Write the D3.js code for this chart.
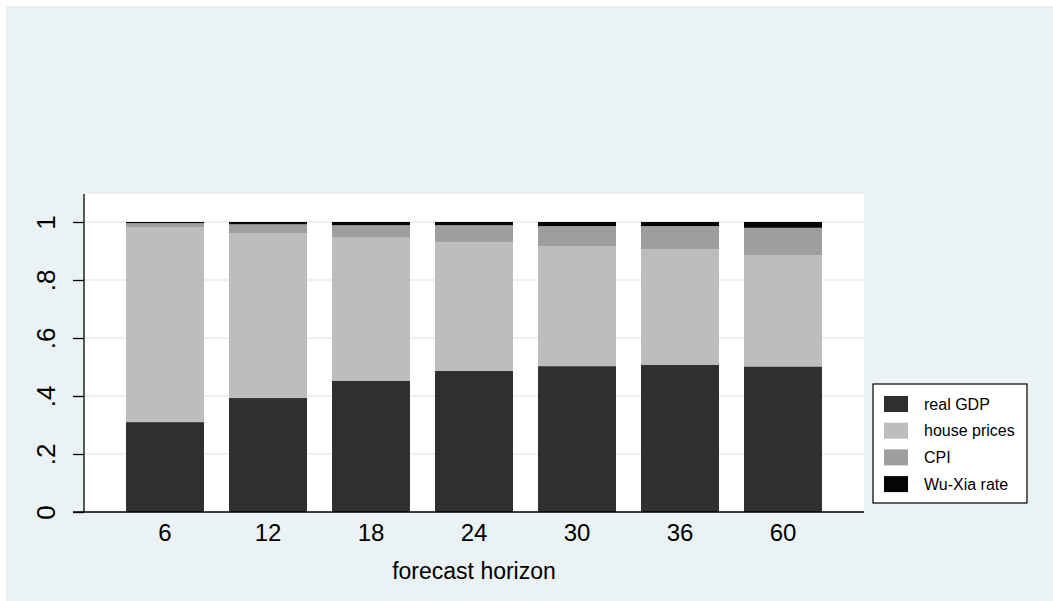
<!DOCTYPE html>
<html>
<head>
<meta charset="utf-8">
<script src="https://cdn.jsdelivr.net/npm/d3@7"></script>
<style>
  html, body { margin: 0; padding: 0; background: #ffffff; }
  svg { display: block; font-family: "Liberation Sans", Arial, Helvetica, sans-serif; }
</style>
</head>
<body>
<svg id="chart" width="1053" height="601"></svg>
<script>
// Forecast error variance shares by horizon (stacked to 1)
const horizons = ["6", "12", "18", "24", "30", "36", "60"];
const realGDP     = [0.310, 0.393, 0.453, 0.487, 0.503, 0.508, 0.502];
const housePrices = [0.671, 0.569, 0.493, 0.443, 0.414, 0.399, 0.384];
const cpi         = [0.015, 0.030, 0.043, 0.059, 0.069, 0.079, 0.094];
const wuXiaRate   = [0.004, 0.008, 0.011, 0.011, 0.014, 0.014, 0.020];

const seriesNames = ["real GDP", "house prices", "CPI", "Wu-Xia rate"];
const seriesColors = ["#303030", "#bdbdbd", "#9e9e9e", "#050505"];
const yTicks = [0, 0.2, 0.4, 0.6, 0.8, 1];
const yTickLabels = ["0", ".2", ".4", ".6", ".8", "1"];

const table = horizons.map((h, i) => ({
  horizon: h,
  "real GDP": realGDP[i],
  "house prices": housePrices[i],
  "CPI": cpi[i],
  "Wu-Xia rate": wuXiaRate[i]
}));

const svg = d3.select("#chart");
const W = 1053, H = 601;
const plot = { left: 84, right: 864, top: 194, bottom: 512 };

// graph background
svg.append("rect").attr("x", 6).attr("y", 6).attr("width", W - 6).attr("height", H - 6)
  .attr("fill", "#eaf2f3");

// plot region
svg.append("rect")
  .attr("x", plot.left).attr("y", plot.top)
  .attr("width", plot.right - plot.left).attr("height", plot.bottom - plot.top)
  .attr("fill", "#ffffff");

const x = d3.scaleBand().domain(horizons)
  .range([plot.left, plot.right])
  .paddingInner(0.2427).paddingOuter(0.4078);
const y = d3.scaleLinear().domain([0, 1]).range([plot.bottom, 222]);

// horizontal grid lines
svg.append("g").selectAll("line").data(yTicks.slice(1)).join("line")
  .attr("x1", plot.left).attr("x2", plot.right)
  .attr("y1", d => y(d)).attr("y2", d => y(d))
  .attr("stroke", "#e4ecee").attr("stroke-width", 1.5);

// stacked bars
const stacked = d3.stack().keys(seriesNames)(table);
const color = d3.scaleOrdinal().domain(seriesNames).range(seriesColors);
svg.append("g").selectAll("g").data(stacked).join("g")
  .attr("fill", d => color(d.key))
  .selectAll("rect").data(d => d).join("rect")
  .attr("x", d => x(d.data.horizon))
  .attr("width", x.bandwidth())
  .attr("y", d => y(d[1]))
  .attr("height", d => y(d[0]) - y(d[1]));

// y axis
const yAxis = d3.axisLeft(y).tickValues(yTicks)
  .tickFormat((d, i) => yTickLabels[i]).tickSize(11).tickPadding(0);
const gy = svg.append("g").attr("transform", `translate(${plot.left},0)`).call(yAxis);
gy.select(".domain").attr("d", `M0,${plot.top}V${plot.bottom}`).attr("stroke", "#000").attr("stroke-width", 1.3);
gy.selectAll(".tick line").attr("stroke", "#000").attr("stroke-width", 1.3);
gy.selectAll(".tick text")
  .attr("x", 0).attr("dy", null)
  .attr("transform", "translate(-38,0) rotate(-90)")
  .attr("text-anchor", "middle")
  .attr("dominant-baseline", "central")
  .attr("font-size", 26).attr("fill", "#000")
  .style("font-family", "'Liberation Sans', Arial, sans-serif");

// x axis
const xAxis = d3.axisBottom(x).tickSize(0).tickPadding(12);
const gx = svg.append("g").attr("transform", `translate(0,${plot.bottom})`).call(xAxis);
gx.select(".domain").attr("d", `M${plot.left - 11},0H${plot.right}`).attr("stroke", "#000").attr("stroke-width", 1.3);
gx.selectAll(".tick text")
  .attr("font-size", 24).attr("fill", "#000")
  .style("font-family", "'Liberation Sans', Arial, sans-serif");

// x axis title
svg.append("text")
  .attr("x", (plot.left + plot.right) / 2).attr("y", 571)
  .attr("text-anchor", "middle").attr("dominant-baseline", "central")
  .attr("font-size", 23).attr("fill", "#000")
  .text("forecast horizon");

// legend
const lg = svg.append("g");
lg.append("rect").attr("x", 873).attr("y", 384).attr("width", 154).attr("height", 119)
  .attr("fill", "#fff").attr("stroke", "#000").attr("stroke-width", 1.2);
const rowY = d => 404 + d * 26.7;
lg.selectAll("rect.sw").data(seriesNames).join("rect").attr("class", "sw")
  .attr("x", 884).attr("y", (d, i) => rowY(i) - 8).attr("width", 24).attr("height", 16)
  .attr("fill", d => color(d));
lg.selectAll("text").data(seriesNames).join("text")
  .attr("x", 924).attr("y", (d, i) => rowY(i))
  .attr("dominant-baseline", "central")
  .attr("font-size", 16).attr("fill", "#000")
  .text(d => d);
</script>
</body>
</html>
